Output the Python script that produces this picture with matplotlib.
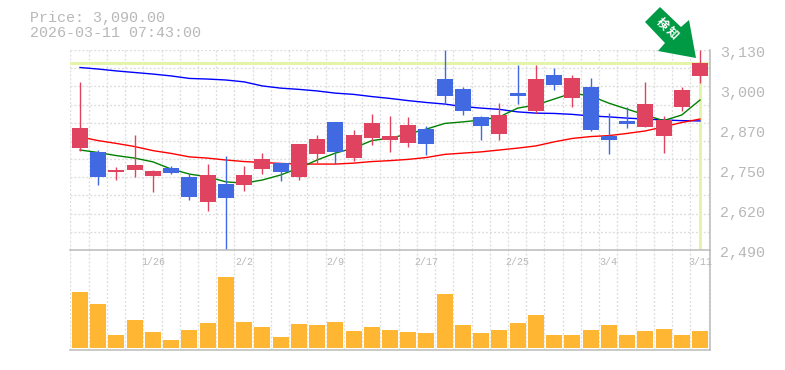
import numpy as np
import matplotlib
matplotlib.use("Agg")
import matplotlib.pyplot as plt
from matplotlib.patches import Polygon

opens = [2816, 2804, 2739, 2746, 2727, 2752, 2724, 2643, 2702, 2698, 2749, 2768, 2724, 2797, 2900, 2784, 2848, 2842,
         2832, 2877, 3037, 3005, 2916, 2861, 2992, 2935, 3050, 2976, 3012, 2855, 2903, 2884, 2855, 2948, 3047]
highs = [3028, 2810, 2756, 2858, 2746, 2759, 2733, 2765, 2791, 2759, 2800, 2768, 2829, 2858, 2900, 2874, 2925, 2919,
         2916, 2887, 3130, 3012, 2919, 2960, 3082, 3082, 3072, 3050, 3040, 2928, 2948, 3028, 2919, 3012, 3130]
lows = [2807, 2698, 2714, 2724, 2675, 2733, 2650, 2614, 2490, 2679, 2733, 2711, 2714, 2768, 2765, 2775, 2826, 2804,
        2820, 2794, 2957, 2922, 2842, 2842, 2957, 2928, 3002, 2948, 2871, 2797, 2880, 2884, 2800, 2935, 3024]
closes = [2880, 2724, 2746, 2762, 2743, 2736, 2659, 2730, 2656, 2730, 2781, 2739, 2829, 2845, 2804, 2858, 2896, 2855,
          2890, 2829, 2983, 2935, 2887, 2922, 2983, 3037, 3018, 3040, 2874, 2842, 2893, 2957, 2906, 3002, 3090]
ma_long = [3074, 3069, 3063, 3058, 3053, 3047, 3039, 3037, 3034, 3028, 3015, 3008, 3004, 2999, 2992, 2988, 2981, 2975,
           2968, 2962, 2957, 2949, 2944, 2940, 2932, 2928, 2927, 2924, 2919, 2916, 2912, 2909, 2906, 2904, 2903]
ma_mid = [2852, 2840, 2831, 2821, 2808, 2799, 2788, 2784, 2778, 2773, 2770, 2767, 2765, 2765, 2765, 2768, 2773, 2776,
          2780, 2786, 2796, 2800, 2804, 2810, 2816, 2823, 2836, 2847, 2853, 2856, 2863, 2871, 2884, 2898, 2909]
ma_short = [2810, 2802, 2792, 2784, 2772, 2749, 2733, 2724, 2708, 2704, 2714, 2730, 2752, 2778, 2800, 2816, 2840, 2848,
            2861, 2877, 2895, 2900, 2906, 2916, 2944, 2954, 2973, 2992, 2983, 2960, 2941, 2922, 2904, 2922, 2970]
volumes = [56, 44, 13, 28, 16, 8, 18, 25, 71, 26, 21, 11, 24, 23, 26, 17, 21, 18,
           16, 15, 54, 23, 15, 18, 25, 33, 13, 13, 18, 23, 13, 17, 19, 13, 17]
date_idx = [4, 9, 14, 19, 24, 29, 34]
date_labels = ["1/26", "2/2", "2/9", "2/17", "2/25", "3/4", "3/11"]
price_labels = ["3,130", "3,000", "2,870", "2,750", "2,620", "2,490"]
last_price = 3090

UP = "#E0435F"
DOWN = "#4169E1"
GRID = "#DDDDDD"
BORDER = "#BBBBBB"
TEXT = "#B8B8B8"
MARK = "#E4F5A9"
W, H = 785, 370
FONT = "Liberation Mono"
CJK = ["Noto Sans CJK JP", "DejaVu Sans"]

fig = plt.figure(figsize=(W / 100, H / 100), dpi=100)
ax = fig.add_axes([70 / W, 1 - 250 / H, 640 / W, 200 / H])
vol = fig.add_axes([70 / W, 1 - 350 / H, 640 / W, 100 / H])

n = len(opens)
x = np.arange(n)
xlim = (-0.55, n - 1 + 0.55)

for a in (ax, vol):
    a.set_xlim(*xlim)
    a.set_xticks([])
    a.set_yticks([])
    for s in a.spines.values():
        s.set_visible(False)
    for k in range(n + 1):
        a.axvline(k - 0.53, color=GRID, lw=0.95, dashes=(1.5, 1.5), zorder=0)

# price panel
ax.set_ylim(2490, 3130)
for y in np.linspace(2490, 3130, 12)[1:]:
    ax.axhline(y, color=GRID, lw=0.95, dashes=(1.5, 1.5), zorder=0)

ax.axhline(last_price, color=MARK, lw=2.2, zorder=1)
ax.plot([x[-1], x[-1]], [2490, last_price], color=MARK, lw=2.2, zorder=1)

ax.plot(x, ma_long, color="#0000FF", lw=1.0, zorder=2)
ax.plot(x, ma_mid, color="#FF0000", lw=1.0, zorder=2)
ax.plot(x, ma_short, color="#008000", lw=1.0, zorder=2)

for i in range(n):
    c = UP if closes[i] >= opens[i] else DOWN
    ax.plot([x[i], x[i]], [lows[i], highs[i]], color=c, lw=1.0, zorder=3, clip_on=False, solid_capstyle="butt")
    ax.bar(x[i], abs(closes[i] - opens[i]), bottom=min(opens[i], closes[i]), width=16 / 18.235, color=c, zorder=4)

# volume panel
vol.set_ylim(-2, 98)
vol.bar(x, volumes, width=16 / 18.235, color="#FFB733", zorder=3)
vol.plot([1, 1], [0, 1], transform=vol.transAxes, color=BORDER, lw=1.1, clip_on=False, zorder=5)
vol.plot([0, 1], [0, 0], transform=vol.transAxes, color=BORDER, lw=1.1, clip_on=False, zorder=5)
vol.plot([0, 1], [1, 1], transform=vol.transAxes, color=BORDER, lw=1.1, clip_on=False, zorder=5)
ax.plot([1, 1], [0, 1], transform=ax.transAxes, color=BORDER, lw=1.1, clip_on=False, zorder=5)

for i, lab in zip(date_idx, date_labels):
    vol.annotate(lab, xy=(x[i], 1), xycoords=("data", "axes fraction"), xytext=(0, -12), textcoords="offset pixels",
                 ha="center", va="center", color=TEXT, fontsize=7.2, family=FONT, zorder=6, annotation_clip=False)

for k, lab in enumerate(price_labels):
    ax.annotate(lab, xy=(1, 1 - k / 5), xycoords="axes fraction", xytext=(10, -3), textcoords="offset pixels",
                ha="left", va="center", color=TEXT, fontsize=10.8, family=FONT, annotation_clip=False)

fig.text(30 / W, 1 - 18 / H, f"Price: {last_price:,.2f}", color=TEXT, fontsize=10.8, family=FONT, va="center")
fig.text(30 / W, 1 - 33 / H, "2026-03-11 07:43:00", color=TEXT, fontsize=10.8, family=FONT, va="center")

# badge arrow
arrow = [(660, 7), (645, 22), (665, 43), (658, 51), (696, 58), (689, 20), (681, 27)]
fig.add_artist(Polygon([(a / W, 1 - b / H) for a, b in arrow], closed=True, transform=fig.transFigure,
                       facecolor="#009944", edgecolor="none", zorder=10))
fig.text(662 / W, 1 - 24 / H, "検", color="white", fontsize=8.5, family=CJK,
         fontweight="bold", rotation=-45, ha="center", va="center", zorder=11)
fig.text(672 / W, 1 - 33 / H, "知", color="white", fontsize=8.5, family=CJK,
         fontweight="bold", rotation=-45, ha="center", va="center", zorder=11)

fig.savefig("out.png", dpi=100)
